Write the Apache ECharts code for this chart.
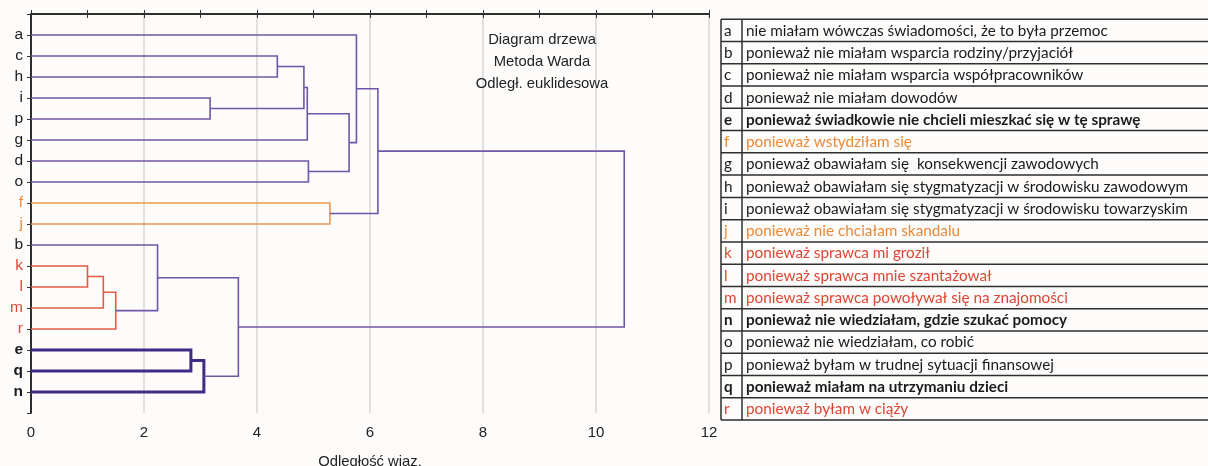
<!DOCTYPE html>
<html>
<head>
<meta charset="utf-8">
<script src="https://cdn.jsdelivr.net/npm/echarts@6/dist/echarts.min.js"></script>
<style>
  html, body { margin: 0; padding: 0; background: #fdfcfb; }
  #chart { width: 1208px; height: 466px; }
</style>
</head>
<body>
<div id="chart"></div>
<script>
// Leaves of the tree, top to bottom along the vertical axis
const leaves = ['a', 'c', 'h', 'i', 'p', 'g', 'd', 'o', 'f', 'j', 'b', 'k', 'l', 'm', 'r', 'e', 'q', 'n'];

// Agglomeration steps (Ward): members are leaf letters or '#k' for step k
const mergeLeft   = ['c', 'i', '#0', '#2', 'd', '#3', 'a', 'f', '#6', 'k', '#9', '#10', 'b', 'e', '#13', '#12', '#8'];
const mergeRight  = ['h', 'p', '#1', 'g', 'o', '#4', '#5', 'j', '#7', 'l', 'm', 'r', '#11', 'q', 'n', '#14', '#15'];
const mergeHeight = [4.36, 3.17, 4.83, 4.89, 4.91, 5.63, 5.76, 5.29, 6.14, 1.00, 1.28, 1.50, 2.24, 2.83, 3.06, 3.67, 10.50];
const mergeTone   = ['base', 'base', 'base', 'base', 'base', 'base', 'base', 'orange', 'base', 'red', 'red', 'red', 'base', 'strong', 'strong', 'base', 'base'];

// Legend table: letters, their descriptions and the tone of each entry
const letters = ['a', 'b', 'c', 'd', 'e', 'f', 'g', 'h', 'i', 'j', 'k', 'l', 'm', 'n', 'o', 'p', 'q', 'r'];
const descriptions = [
  'nie miałam wówczas świadomości, że to była przemoc',
  'ponieważ nie miałam wsparcia rodziny/przyjaciół',
  'ponieważ nie miałam wsparcia współpracowników',
  'ponieważ nie miałam dowodów',
  'ponieważ świadkowie nie chcieli mieszkać się w tę sprawę',
  'ponieważ wstydziłam się',
  'ponieważ obawiałam się  konsekwencji zawodowych',
  'ponieważ obawiałam się stygmatyzacji w środowisku zawodowym',
  'ponieważ obawiałam się stygmatyzacji w środowisku towarzyskim',
  'ponieważ nie chciałam skandalu',
  'ponieważ sprawca mi groził',
  'ponieważ sprawca mnie szantażował',
  'ponieważ sprawca powoływał się na znajomości',
  'ponieważ nie wiedziałam, gdzie szukać pomocy',
  'ponieważ nie wiedziałam, co robić',
  'ponieważ byłam w trudnej sytuacji finansowej',
  'ponieważ miałam na utrzymaniu dzieci',
  'ponieważ byłam w ciąży'
];
const letterTone = ['plain', 'plain', 'plain', 'plain', 'bold', 'orange', 'plain', 'plain', 'plain',
                    'orange', 'red', 'red', 'red', 'bold', 'plain', 'plain', 'bold', 'red'];

// Axis ticks
const xTicks = [0, 2, 4, 6, 8, 10, 12];

// ---- styling ----
const branchStyle = {
  base:   { stroke: '#6f56a6', lineWidth: 1.6 },
  orange: { stroke: '#f0974a', lineWidth: 1.6 },
  red:    { stroke: '#e25a45', lineWidth: 1.6 },
  strong: { stroke: '#3f2a86', lineWidth: 3 }
};
const textTone = {
  plain:  { color: '#1b1b1b', fontWeight: 'normal' },
  bold:   { color: '#1b1b1b', fontWeight: 'bold' },
  orange: { color: '#ea8a38', fontWeight: 'normal' },
  red:    { color: '#dd4634', fontWeight: 'normal' }
};
const toneOf = {};
letters.forEach((l, i) => { toneOf[l] = letterTone[i]; });

// ---- build branch polylines from the linkage ----
const nodeY = {};
const nodeH = {};
leaves.forEach((l, i) => { nodeY[l] = i + 1; nodeH[l] = 0; });
const branches = [];
mergeHeight.forEach((h, k) => {
  const L = mergeLeft[k], R = mergeRight[k];
  branches.push([nodeH[L], nodeY[L], h, nodeY[R], nodeH[R], k]);
  nodeY['#' + k] = (nodeY[L] + nodeY[R]) / 2;
  nodeH['#' + k] = h;
});

const chart = echarts.init(document.getElementById('chart'));

// ---- legend table drawn as graphics ----
const tbl = { left: 721, split: 742, right: 1212, top: 19.3, row: 22.26 };
const tableGraphics = [];
for (let i = 0; i <= letters.length; i++) {
  const y = tbl.top + i * tbl.row;
  tableGraphics.push({ type: 'line', shape: { x1: tbl.left, y1: y, x2: tbl.right, y2: y },
    style: { stroke: '#2e2e2e', lineWidth: 1.5 }, silent: true });
}
const tblBottom = tbl.top + letters.length * tbl.row;
[tbl.left, tbl.split].forEach(x => {
  tableGraphics.push({ type: 'line', shape: { x1: x, y1: tbl.top, x2: x, y2: tblBottom },
    style: { stroke: '#2e2e2e', lineWidth: 1.5 }, silent: true });
});
letters.forEach((l, i) => {
  const cy = tbl.top + (i + 0.5) * tbl.row + 0.5;
  const t = textTone[letterTone[i]];
  const font = { fontFamily: 'Lato', fontSize: 15.3, fill: t.color, fontWeight: t.fontWeight, textVerticalAlign: 'middle' };
  tableGraphics.push({ type: 'text', x: 724, y: cy, style: Object.assign({ text: l }, font), silent: true });
  tableGraphics.push({ type: 'text', x: 746, y: cy, style: Object.assign({ text: descriptions[i] }, font), silent: true });
});

const option = {
  backgroundColor: '#fdfcfb',
  animation: false,
  title: {
    text: 'Diagram drzewa\nMetoda Warda\nOdległ. euklidesowa',
    left: 537, top: 24, textAlign: 'center',
    textStyle: { fontFamily: 'Liberation Sans', fontSize: 14.8, fontWeight: 'normal', color: '#222', lineHeight: 22 }
  },
  grid: { left: 31, right: 499, top: 14, bottom: 53, outerBoundsMode: 'none', containLabel: false },
  xAxis: [
    {
      type: 'value', min: 0, max: 12, interval: 2, position: 'bottom',
      name: 'Odległość wiąz.', nameLocation: 'middle', nameGap: 41,
      nameTextStyle: { fontFamily: 'Liberation Sans', fontSize: 14.8, color: '#222' },
      axisLine: { show: true, lineStyle: { color: '#222', width: 1.5 } },
      axisTick: { show: true, inside: true, length: 4, lineStyle: { color: '#333', width: 1 } },
      minorTick: { show: true, splitNumber: 2, length: 4, lineStyle: { color: '#333', width: 1 } },
      axisLabel: {
        margin: 12, fontFamily: 'Liberation Sans', fontSize: 15, color: '#222',
        formatter: v => (xTicks.indexOf(v) >= 0 ? String(v) : '')
      },
      splitLine: { show: true, lineStyle: { color: '#d9d7d4', width: 1.5 } }
    },
    {
      type: 'value', min: 0, max: 12, interval: 1, position: 'top',
      axisLine: { show: true, lineStyle: { color: '#222', width: 1.5 } },
      axisTick: { show: true, inside: true, length: 4, lineStyle: { color: '#333', width: 1 } },
      axisLabel: { show: false },
      splitLine: { show: false }
    }
  ],
  yAxis: [
    {
      type: 'value', min: 0, max: leaves.length + 1, interval: 1, inverse: true, position: 'left',
      axisLine: { show: true, lineStyle: { color: '#222', width: 1.5 } },
      axisTick: { show: false },
      axisLabel: {
        margin: 8, fontFamily: 'Liberation Sans', fontSize: 15.5,
        formatter: v => {
          const l = leaves[v - 1];
          return l ? '{' + toneOf[l] + '|' + l + '}' : '';
        },
        rich: {
          plain:  { color: textTone.plain.color,  fontFamily: 'Liberation Sans', fontSize: 15.5 },
          bold:   { color: textTone.bold.color,   fontFamily: 'Liberation Sans', fontSize: 15.5, fontWeight: 'bold' },
          orange: { color: textTone.orange.color, fontFamily: 'Liberation Sans', fontSize: 15.5 },
          red:    { color: textTone.red.color,    fontFamily: 'Liberation Sans', fontSize: 15.5 }
        }
      },
      splitLine: { show: false }
    },
    {
      type: 'value', min: 0, max: leaves.length + 1, interval: 1, inverse: true, position: 'right',
      axisLine: { show: true, lineStyle: { color: '#222', width: 1.5 } },
      axisTick: { show: true, inside: true, length: 4, lineStyle: { color: '#333', width: 1 } },
      axisLabel: { show: false },
      splitLine: { show: false }
    }
  ],
  series: [{
    type: 'custom',
    xAxisIndex: 0, yAxisIndex: 0,
    data: branches,
    encode: { x: [0, 2, 4], y: [1, 3] },
    clip: false,
    renderItem: (params, api) => {
      const x0 = api.value(0), y0 = api.value(1), h = api.value(2), y1 = api.value(3), x1 = api.value(4);
      const st = branchStyle[mergeTone[api.value(5)]];
      const pts = [api.coord([x0, y0]), api.coord([h, y0]), api.coord([h, y1]), api.coord([x1, y1])];
      return {
        type: 'polyline',
        shape: { points: pts },
        style: { stroke: st.stroke, lineWidth: st.lineWidth, fill: null, lineJoin: 'miter' }
      };
    }
  }],
  graphic: tableGraphics
};

chart.setOption(option);
</script>
</body>
</html>
